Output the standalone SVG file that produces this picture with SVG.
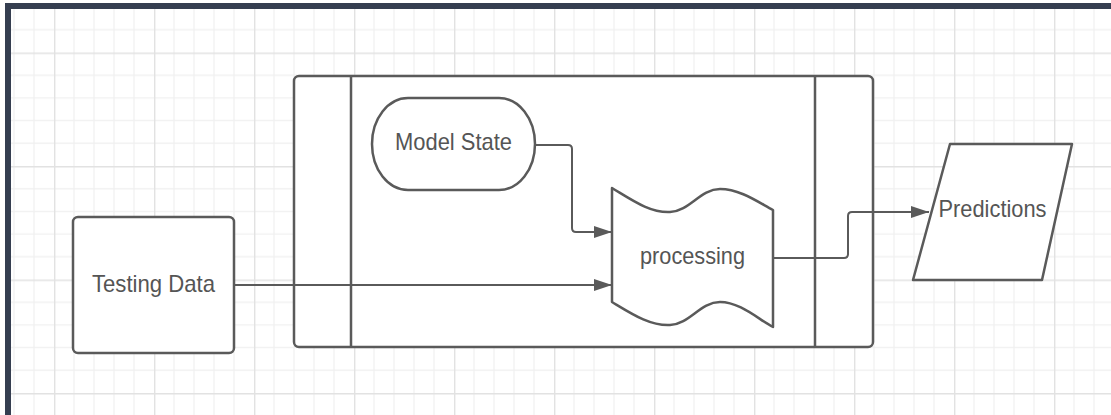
<svg xmlns="http://www.w3.org/2000/svg" width="1111" height="415" viewBox="0 0 1111 415">
  <style>
    .shape { fill: #ffffff; stroke: #5a5a5a; stroke-width: 2.5; stroke-linejoin: round; }
    .divider { stroke: #5a5a5a; stroke-width: 2.5; }
    .conn { fill: none; stroke: #5a5a5a; stroke-width: 2; }
    .label { font-family: "Liberation Sans", Arial, sans-serif; font-size: 24px; fill: #555555; text-anchor: middle; }
  </style>
  <defs>
    <pattern id="grid" patternUnits="userSpaceOnUse" x="54" y="52.5" width="100" height="113.5">
      <rect width="100" height="113.5" fill="#ffffff"/>
      <g stroke="#f0f0f0" stroke-width="1.2">
        <line x1="20" y1="0" x2="20" y2="113.5"/>
        <line x1="40" y1="0" x2="40" y2="113.5"/>
        <line x1="60" y1="0" x2="60" y2="113.5"/>
        <line x1="80" y1="0" x2="80" y2="113.5"/>
        <line x1="0" y1="22.7" x2="100" y2="22.7"/>
        <line x1="0" y1="45.4" x2="100" y2="45.4"/>
        <line x1="0" y1="68.1" x2="100" y2="68.1"/>
        <line x1="0" y1="90.8" x2="100" y2="90.8"/>
      </g>
      <g stroke="#e2e2e2" stroke-width="1.4">
        <line x1="0.7" y1="0" x2="0.7" y2="113.5"/>
        <line x1="0" y1="0.7" x2="100" y2="0.7"/>
      </g>
    </pattern>
    <marker id="arrow" markerUnits="userSpaceOnUse" markerWidth="18" markerHeight="12" refX="18" refY="6" orient="auto">
      <path d="M0,0 L18,6 L0,12 Z" fill="#5a5a5a"/>
    </marker>
  </defs>

  <rect x="0" y="0" width="1111" height="415" fill="#ffffff"/>
  <rect x="11" y="9" width="1100" height="406" fill="url(#grid)"/>
  <rect x="5" y="3" width="1106" height="6" fill="#353e50"/>
  <rect x="5" y="3" width="6" height="412" fill="#353e50"/>

  <g id="container">
    <rect class="shape" x="294" y="76" width="579" height="271" rx="5"/>
    <line class="divider" x1="351" y1="76" x2="351" y2="347"/>
    <line class="divider" x1="815" y1="76" x2="815" y2="347"/>
  </g>

  <g id="connectors">
    <path class="conn" d="M535,145 H568 Q572,145 572,149 V228 Q572,232 576,232 H612" marker-end="url(#arrow)"/>
    <path class="conn" d="M234,285 H612" marker-end="url(#arrow)"/>
    <path class="conn" d="M773,258 H844 Q848,258 848,254 V216 Q848,212 852,212 H929" marker-end="url(#arrow)"/>
  </g>

  <g id="testing-data">
    <rect class="shape" x="73" y="217" width="161" height="136" rx="5"/>
    <text class="label" x="153.5" y="292" textLength="123" lengthAdjust="spacingAndGlyphs">Testing Data</text>
  </g>

  <g id="model-state">
    <rect class="shape" x="372" y="98" width="163" height="92" rx="36" ry="46"/>
    <text class="label" x="453.5" y="150" textLength="117" lengthAdjust="spacingAndGlyphs">Model State</text>
  </g>

  <g id="processing">
    <path class="shape" d="M612,188 C632,200 650,213 670,212 C690,211 700,189 720,189 C740,189 758,202 773,210 V327 C758,319 740,302 720,302 C700,302 690,324 670,325 C650,326 632,314 612,302 Z"/>
    <text class="label" x="692.5" y="264" textLength="105" lengthAdjust="spacingAndGlyphs">processing</text>
  </g>

  <g id="predictions">
    <path class="shape" d="M950,144 H1072 L1042,280 H913 Z"/>
    <text class="label" x="992.5" y="217" textLength="108" lengthAdjust="spacingAndGlyphs">Predictions</text>
  </g>
</svg>
